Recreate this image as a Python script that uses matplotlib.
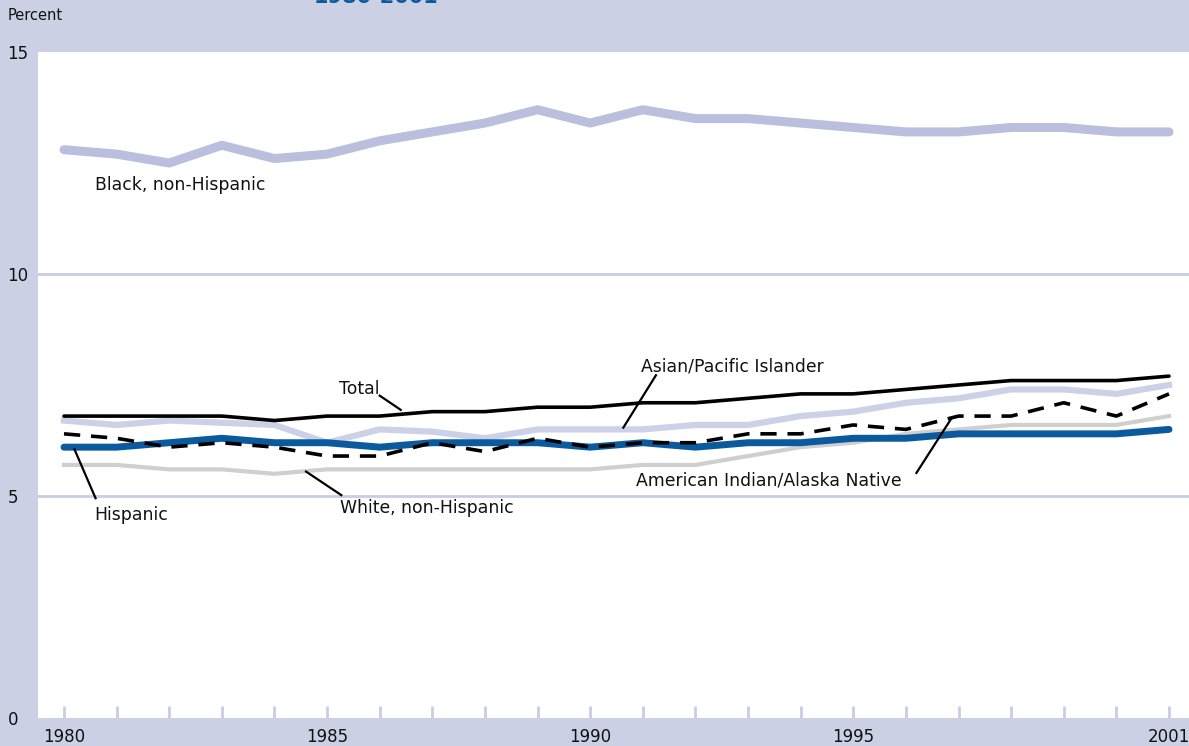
import matplotlib

matplotlib.use("Agg")
import matplotlib.pyplot as plt

# data (percent)
years = list(range(1980, 2002))
black = [12.8, 12.7, 12.5, 12.9, 12.6, 12.7, 13.0, 13.2, 13.4, 13.7, 13.4,
         13.7, 13.5, 13.5, 13.4, 13.3, 13.2, 13.2, 13.3, 13.3, 13.2, 13.2]
total = [6.8, 6.8, 6.8, 6.8, 6.7, 6.8, 6.8, 6.9, 6.9, 7.0, 7.0,
         7.1, 7.1, 7.2, 7.3, 7.3, 7.4, 7.5, 7.6, 7.6, 7.6, 7.7]
asian = [6.7, 6.6, 6.7, 6.65, 6.6, 6.2, 6.5, 6.45, 6.3, 6.5, 6.5,
         6.5, 6.6, 6.6, 6.8, 6.9, 7.1, 7.2, 7.4, 7.4, 7.3, 7.5]
amind = [6.4, 6.3, 6.1, 6.2, 6.1, 5.9, 5.9, 6.2, 6.0, 6.3, 6.1,
         6.2, 6.2, 6.4, 6.4, 6.6, 6.5, 6.8, 6.8, 7.1, 6.8, 7.3]
hispanic = [6.1, 6.1, 6.2, 6.3, 6.2, 6.2, 6.1, 6.2, 6.2, 6.2, 6.1,
            6.2, 6.1, 6.2, 6.2, 6.3, 6.3, 6.4, 6.4, 6.4, 6.4, 6.5]
white = [5.7, 5.7, 5.6, 5.6, 5.5, 5.6, 5.6, 5.6, 5.6, 5.6, 5.6,
         5.7, 5.7, 5.9, 6.1, 6.2, 6.4, 6.5, 6.6, 6.6, 6.6, 6.8]

y_ticks = [0, 5, 10, 15]
x_labels = {1980: "1980", 1985: "1985", 1990: "1990", 1995: "1995", 2001: "2001"}

BG = "#CCD0E4"
GRID = "#C9CDE4"

plt.rcParams["font.family"] = ["DejaVu Sans"]

W, H = 1189, 746
fig = plt.figure(figsize=(W / 100, H / 100), dpi=100, facecolor=BG)
ax = fig.add_axes([38 / W, (H - 718) / H, 1 - 38 / W, (718 - 52) / H])
ax.set_facecolor("white")

ax.plot(years, black, color="#B9BFDD", lw=6.5, solid_capstyle="round", zorder=2)
ax.plot(years, white, color="#CFCFCF", lw=3.0, zorder=3)
ax.plot(years, hispanic, color="#0B5A9D", lw=5.0, solid_capstyle="round", zorder=4)
ax.plot(years, asian, color="#CDD1E7", lw=4.5, zorder=3)
ax.plot(years, amind, color="black", lw=2.6, dashes=(4.5, 3.0), zorder=5)
ax.plot(years, total, color="black", lw=2.6, solid_capstyle="round", zorder=6)

ax.set_xlim(1979.506, 2001.38)
ax.set_ylim(0, 15)

for y in [5, 10]:
    ax.axhline(y, color=GRID, lw=2.0, zorder=1)

for s in ax.spines.values():
    s.set_visible(False)

ax.set_xticks(years)
ax.set_xticklabels([x_labels.get(yr, "") for yr in years])
ax.tick_params(axis="x", direction="in", length=9, width=2, color=GRID,
               pad=7, labelsize=12, labelcolor="#111111")
ax.set_yticks(y_ticks)
ax.set_yticklabels([str(v) for v in y_ticks])
ax.tick_params(axis="y", length=0, pad=22, labelsize=12, labelcolor="#111111")
for lab in ax.get_yticklabels():
    lab.set_horizontalalignment("left")

fig.text(8 / W, 1 - 16 / H, "Percent", fontsize=10.5, color="#111111",
         va="center", ha="left")
# title sits above the cropped top edge, only its foot shows
fig.text(376 / W, 1 - 3 / H, "1980-2001", fontsize=15, fontweight="bold",
         color="#0B5A9D", va="baseline", ha="center")

label_kw = dict(fontsize=12.4, color="#111111", zorder=8)
ax.text(1980.58, 12.0, "Black, non-Hispanic", ha="left", va="center", **label_kw)
ax.text(1985.22, 7.4, "Total", ha="left", va="center", **label_kw)
ax.text(1990.97, 7.91, "Asian/Pacific Islander", ha="left", va="center", **label_kw)
ax.text(1980.58, 4.58, "Hispanic", ha="left", va="center", **label_kw)
ax.text(1985.25, 4.72, "White, non-Hispanic", ha="left", va="center", **label_kw)
ax.text(1990.87, 5.36, "American Indian/Alaska Native", ha="left", va="center", **label_kw)

leaders = [
    ((1986.0, 7.26), (1986.4, 6.94)),   # Total
    ((1991.25, 7.72), (1990.63, 6.54)),  # Asian/Pacific Islander
    ((1980.6, 4.95), (1980.2, 6.05)),   # Hispanic
    ((1985.27, 5.02), (1984.6, 5.55)),  # White, non-Hispanic
    ((1996.2, 5.52), (1996.85, 6.72)),  # American Indian/Alaska Native
]
for (x0, y0), (x1, y1) in leaders:
    ax.plot([x0, x1], [y0, y1], color="black", lw=1.6, zorder=7)

fig.savefig("out.png", dpi=100, facecolor=BG)
